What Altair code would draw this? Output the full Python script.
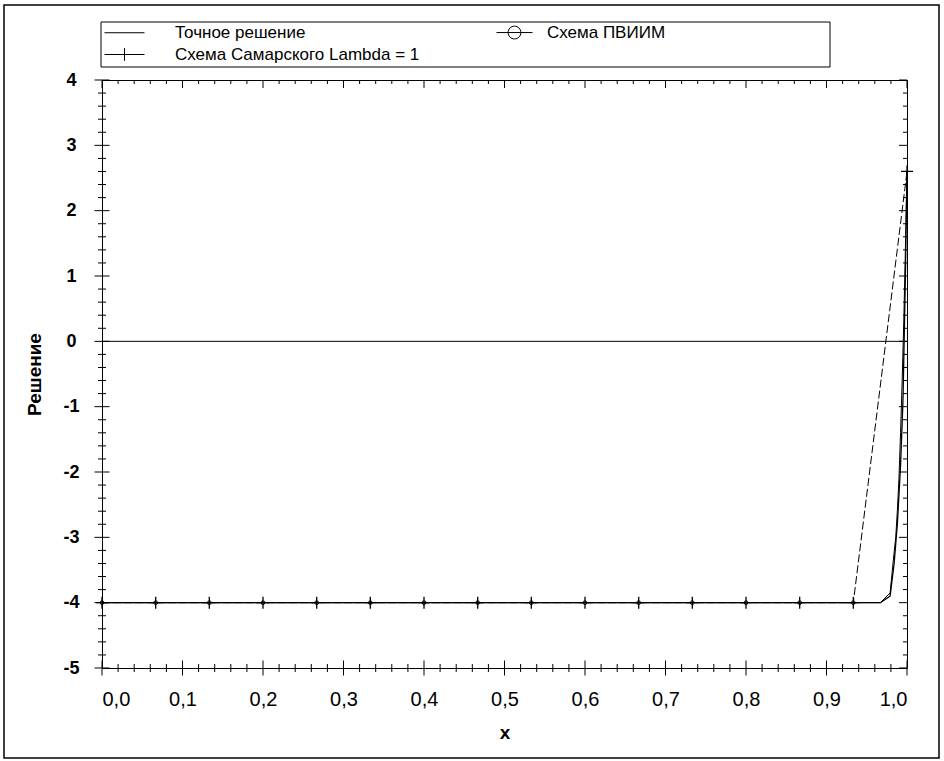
import altair as alt
import pandas as pd

FONT = "Liberation Sans"

series_names = ["Точное решение", "Схема Самарского Lambda = 1", "Схема ПВИИМ"]

# exact solution (boundary layer near x = 1)
exact_x = [0.0, 0.967, 0.979, 0.983, 0.986, 0.988, 0.990, 0.992, 0.994, 0.996, 0.998, 1.0]
exact_y = [-4.0, -4.0, -3.85, -3.35, -3.0, -2.6, -2.1, -1.4, -0.6, 0.3, 1.4, 2.6]

# Samarsky scheme, Lambda = 1 (grid 1/15)
sam_x = [0.0, 0.0667, 0.1333, 0.2, 0.2667, 0.3333, 0.4, 0.4667, 0.5333, 0.6,
         0.6667, 0.7333, 0.8, 0.8667, 0.9333, 1.0]
sam_y = [-4.0, -4.0, -4.0, -4.0, -4.0, -4.0, -4.0, -4.0, -4.0, -4.0,
         -4.0, -4.0, -4.0, -4.0, -4.0, 2.6]

# PVIIM scheme
pv_x = [0.0, 0.0667, 0.1333, 0.2, 0.2667, 0.3333, 0.4, 0.4667, 0.5333, 0.6,
        0.6667, 0.7333, 0.8, 0.8667, 0.9333, 0.967, 0.979, 0.984, 0.988, 0.992,
        0.995, 0.998, 1.0]
pv_y = [-4.0, -4.0, -4.0, -4.0, -4.0, -4.0, -4.0, -4.0, -4.0, -4.0,
        -4.0, -4.0, -4.0, -4.0, -4.0, -4.0, -3.9, -3.4, -2.8, -1.9,
        -0.9, 1.0, 2.6]
pv_marker_x = [0.0, 0.0667, 0.1333, 0.2, 0.2667, 0.3333, 0.4, 0.4667, 0.5333, 0.6,
               0.6667, 0.7333, 0.8, 0.8667, 0.9333]
pv_marker_y = [-4.0] * 15

zero_level = [0.0]

x_tick_labels = [0.0, 0.1, 0.2, 0.3, 0.4, 0.5, 0.6, 0.7, 0.8, 0.9, 1.0]
y_tick_labels = [-5, -4, -3, -2, -1, 0, 1, 2, 3, 4]
x_minor = [round(i * 0.02, 2) for i in range(51) if i % 5]
y_minor = [round(-5 + i * 0.2, 1) for i in range(46) if i % 5]

exact_df = pd.DataFrame({"x": exact_x, "y": exact_y})
sam_df = pd.DataFrame({"x": sam_x, "y": sam_y})
pv_df = pd.DataFrame({"x": pv_x, "y": pv_y})
pvm_df = pd.DataFrame({"x": pv_marker_x, "y": pv_marker_y})
zero_df = pd.DataFrame({"y": zero_level})
xmaj_df = pd.DataFrame({"x": x_tick_labels})
xmin_df = pd.DataFrame({"x": x_minor})
ymaj_df = pd.DataFrame({"y": y_tick_labels})
ymin_df = pd.DataFrame({"y": y_minor})
legend_df = pd.DataFrame({"series": series_names})

xscale = alt.Scale(domain=[0, 1], nice=False, zero=False)
yscale = alt.Scale(domain=[-5, 4], nice=False, zero=False)

x_axis = alt.Axis(title="x", values=x_tick_labels, ticks=False, tickSize=0, domain=False, grid=False,
                  labelExpr="replace(format(datum.value, '.1f'), '.', ',')",
                  labelFont=FONT, labelFontSize=20, labelColor="black", labelPadding=21,
                  titleFont=FONT, titleFontSize=19, titleFontWeight="bold", titleColor="black",
                  titlePadding=14)
y_axis = alt.Axis(title="Решение", values=y_tick_labels, ticks=False, tickSize=0, domain=False, grid=False,
                  labelExpr="datum.value < 0 ? '-' + abs(datum.value) : '' + datum.value",
                  labelFont=FONT, labelFontSize=18, labelFontWeight="bold", labelAlign="center",
                  labelColor="black", labelPadding=31,
                  titleFont=FONT, titleFontSize=19, titleFontWeight="bold", titleColor="black",
                  titlePadding=18)

X = alt.X("x:Q", scale=xscale, axis=x_axis)
Y = alt.Y("y:Q", scale=yscale, axis=y_axis)


def xd(v):
    return alt.XDatum(v, type="quantitative", scale=xscale, axis=x_axis)


def yd(v):
    return alt.YDatum(v, type="quantitative", scale=yscale, axis=y_axis)


exact_line = alt.Chart(exact_df).mark_line(color="black", strokeWidth=1).encode(x=X, y=Y)
sam_line = alt.Chart(sam_df).mark_line(color="black", strokeWidth=1, strokeDash=[8, 3]).encode(x=X, y=Y)
pv_line = alt.Chart(pv_df).mark_line(color="black", strokeWidth=1.3).encode(x=X, y=Y)
sam_pts = alt.Chart(sam_df).mark_point(shape="M-1,0L1,0M0,-1L0,1", size=144, color="black",
                                       strokeWidth=1.3, filled=False, opacity=1).encode(x=X, y=Y)
pv_pts = alt.Chart(pvm_df).mark_point(shape="circle", size=14, color="black",
                                      strokeWidth=1, filled=False, opacity=1).encode(x=X, y=Y)
zero_rule = alt.Chart(zero_df).mark_rule(color="black", strokeWidth=1).encode(y=Y)

tick_kw = dict(color="black", thickness=1, opacity=1)
left_maj = alt.Chart(ymaj_df).mark_tick(orient="horizontal", size=15, **tick_kw).encode(y=Y, x=xd(0))
left_min = alt.Chart(ymin_df).mark_tick(orient="horizontal", size=8, **tick_kw).encode(y=Y, x=xd(0))
bot_maj = alt.Chart(xmaj_df).mark_tick(orient="vertical", size=15, **tick_kw).encode(x=X, y=yd(-5))
bot_min = alt.Chart(xmin_df).mark_tick(orient="vertical", size=8, **tick_kw).encode(x=X, y=yd(-5))
top_maj = alt.Chart(xmaj_df).mark_tick(orient="vertical", size=8, yOffset=4, **tick_kw).encode(x=X, y=yd(4))
top_min = alt.Chart(xmin_df).mark_tick(orient="vertical", size=4, yOffset=2, **tick_kw).encode(x=X, y=yd(4))
right_maj = alt.Chart(ymaj_df).mark_tick(orient="horizontal", size=8, xOffset=-4, **tick_kw).encode(y=Y, x=xd(1))
right_min = alt.Chart(ymin_df).mark_tick(orient="horizontal", size=4, xOffset=-2, **tick_kw).encode(y=Y, x=xd(1))

# legend symbols (unit = 8 px with size 256)
sym_exact = "M-1,0L4,0"
sym_sam = "M-1,0L4,0M1.5,-0.8L1.5,0.8"
sym_pviim = "M1.5,0L6,0M4.55,0A0.8,0.8 0 1 1 2.95,0A0.8,0.8 0 1 1 4.55,0"

legend_layer = alt.Chart(legend_df).mark_point(opacity=0, filled=False).encode(
    shape=alt.Shape(
        "series:N",
        scale=alt.Scale(domain=series_names, range=[sym_exact, sym_sam, sym_pviim]),
        legend=alt.Legend(
            orient="none", legendX=-1, legendY=-59, columns=2, title=None,
            padding=3,
            labelFont=FONT, labelFontSize=17, labelColor="black", labelOffset=54, labelLimit=500,
            columnPadding=56, rowPadding=4,
            symbolSize=256, symbolStrokeColor="black", symbolStrokeWidth=1,
            symbolFillColor="transparent", symbolOpacity=1,
        ),
    )
)

legend_box = alt.Chart(zero_df).mark_rect(fillOpacity=0, stroke="black", strokeWidth=1).encode(
    x=alt.value(-1), x2=alt.value(728), y=alt.value(-58), y2=alt.value(-13))

frame = alt.Chart(zero_df).mark_rect(fillOpacity=0, stroke="black", strokeWidth=1.5).encode(
    x=alt.value(-98), x2=alt.value(837), y=alt.value(-75), y2=alt.value(678))

chart = alt.layer(
    exact_line, zero_rule, sam_line, pv_line, sam_pts, pv_pts,
    left_maj, left_min, bot_maj, bot_min, top_maj, top_min, right_maj, right_min,
    legend_layer, legend_box, frame,
).properties(
    width=805, height=588,
    padding={"left": 102, "top": 80, "right": 37, "bottom": 93},
    autosize=alt.AutoSizeParams(type="none"),
    background="white",
).configure_view(stroke="black", strokeWidth=1)

chart.save("out.html", embed_options={"renderer": "svg", "actions": False})
